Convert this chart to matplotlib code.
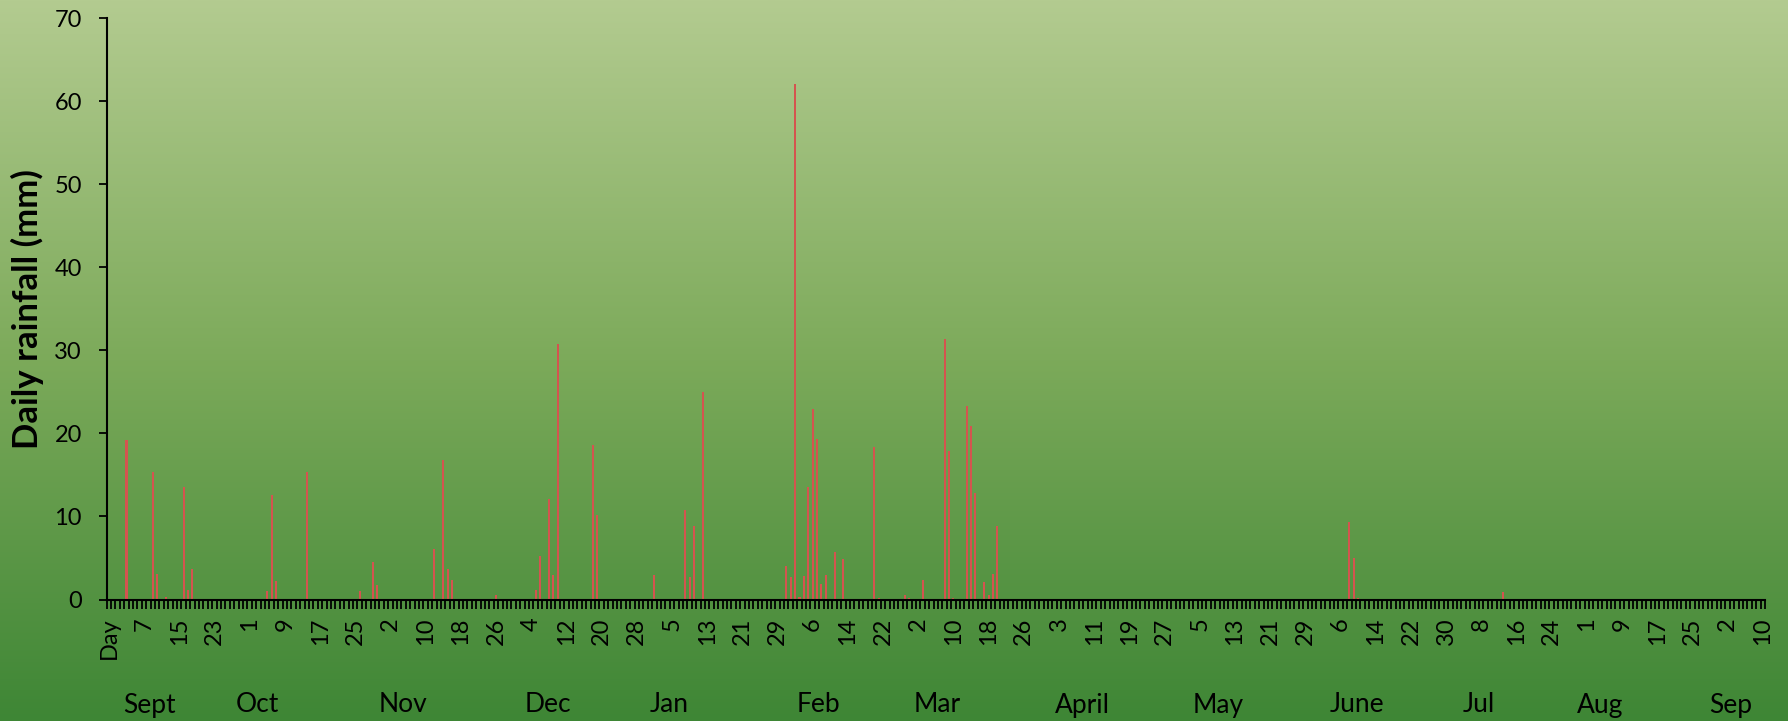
import numpy as np
import matplotlib
matplotlib.use("Agg")
import matplotlib.pyplot as plt
from matplotlib.colors import LinearSegmentedColormap
import matplotlib.transforms as mtransforms

plt.rcParams['font.family'] = ['Lato', 'DejaVu Sans']

# one category per day, first category is the "Day" header column
n_days = 377
tick_labels = ["Day", "7", "15", "23", "1", "9", "17", "25", "2", "10", "18", "26",
               "4", "12", "20", "28", "5", "13", "21", "29", "6", "14", "22",
               "2", "10", "18", "26", "3", "11", "19", "27", "5", "13", "21", "29",
               "6", "14", "22", "30", "8", "16", "24", "1", "9", "17", "25", "2", "10"]

# days with rain (category index) and rainfall in mm
rain_day = [4, 10, 11, 13, 17, 18, 19, 36, 37, 38, 45, 57, 60, 61,
            74, 76, 77, 78, 88, 97, 98, 100, 101, 102, 110, 111,
            124, 131, 132, 133, 135, 154, 155, 156, 157, 158, 159, 160,
            161, 162, 163, 165, 167, 174, 175, 181, 182, 185, 190, 191,
            192, 195, 196, 197, 199, 200, 201, 202, 282, 283, 284, 317]
rain_mm = [19.2, 15.4, 3.1, 0.3, 13.6, 1.1, 3.7, 1.0, 12.6, 2.2, 15.4, 1.0, 4.5, 1.7,
           6.1, 16.8, 3.7, 2.4, 0.6, 1.2, 5.2, 12.1, 2.9, 30.8, 18.6, 10.2,
           2.9, 10.8, 2.7, 8.8, 25.0, 4.0, 2.7, 62.1, 0.3, 2.8, 13.5, 23.0,
           19.3, 1.9, 3.0, 5.7, 4.9, 18.4, 0.2, 0.6, 0.2, 2.4, 31.4, 17.9,
           0.2, 23.3, 20.9, 12.8, 2.1, 0.6, 3.1, 8.8, 9.3, 5.0, 0.2, 0.9]

months = ["Sept", "Oct", "Nov", "Dec", "Jan", "Feb", "Mar", "April", "May",
          "June", "Jul", "Aug", "Sep"]
month_pos = [9.3, 33.7, 66.8, 99.7, 127.4, 161.2, 188.3, 221.3, 252.1,
             283.8, 311.5, 339, 368.8]

daily = np.zeros(n_days)
daily[rain_day] = rain_mm

fig = plt.figure(figsize=(17.88, 7.21), dpi=100)

# green gradient background
bg = fig.add_axes([0, 0, 1, 1], zorder=0)
cmap = LinearSegmentedColormap.from_list(
    "bg", [(0.0, "#b3cb90"), (0.5, "#7caa5a"), (1.0, "#3e8635")])
grad = np.linspace(0, 1, 256).reshape(-1, 1)
bg.imshow(grad, aspect="auto", cmap=cmap, extent=[0, 1, 0, 1], origin="upper")
bg.set_axis_off()

ax = fig.add_axes([106.7 / 1788, 1 - 599.5 / 721, (1765 - 106.7) / 1788,
                   (599.5 - 18.3) / 721], zorder=1)
ax.patch.set_alpha(0)

x = np.arange(n_days)
ax.bar(x, daily, width=0.46, color="#d4544f", linewidth=0, zorder=2)

ax.set_xlim(-0.5, n_days - 0.5)
ax.set_ylim(0, 70)
ax.set_yticks(range(0, 71, 10))

ax.set_xticks(np.arange(0, len(tick_labels) * 8, 8))
ax.set_xticklabels(tick_labels, rotation=90, fontsize=17)
ax.set_xticks(np.arange(-0.5, n_days, 1), minor=True)
ax.tick_params(axis="x", which="major", length=0, pad=13)
ax.tick_params(axis="x", which="minor", length=6.5, width=1.3, color="black")
ax.tick_params(axis="y", length=5.8, width=1.3, pad=12, labelsize=17)

for s in ["top", "right"]:
    ax.spines[s].set_visible(False)
for s in ["left", "bottom"]:
    ax.spines[s].set_linewidth(1.5)

trans = mtransforms.blended_transform_factory(ax.transData, fig.transFigure)
for name, pos in zip(months, month_pos):
    ax.text(pos, 1 - 705 / 721, name, transform=trans, ha="center", va="center",
            fontsize=19)

fig.text(27 / 1788, 1 - 309 / 721, "Daily rainfall (mm)", rotation=90,
         ha="center", va="center", fontsize=25, fontweight="bold")

fig.savefig("out.png", dpi=100)
